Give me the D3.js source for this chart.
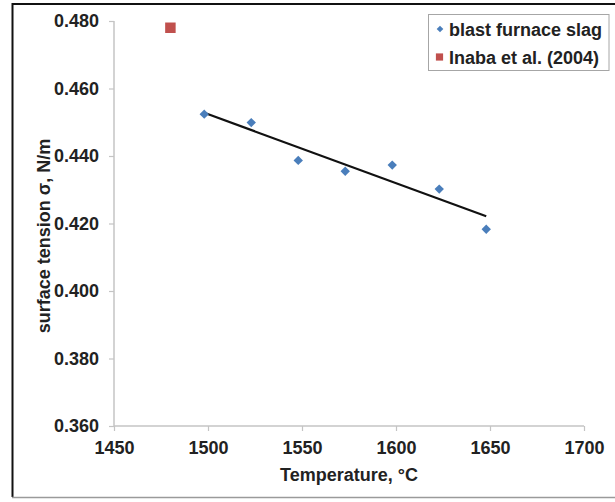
<!DOCTYPE html>
<html>
<head>
<meta charset="utf-8">
<script src="https://cdn.jsdelivr.net/npm/d3@7/dist/d3.min.js"></script>
<style>
  html, body { margin: 0; padding: 0; background: #fff; }
  svg text { font-family: "Liberation Sans", Arial, sans-serif; font-weight: bold; fill: #222; }
</style>
</head>
<body>
<svg id="chart" width="615" height="502"></svg>
<script>
// Surface tension of blast furnace slag vs temperature
const slagTemps  = [1498, 1523, 1548, 1573, 1598, 1623, 1648];
const slagTension = [0.4524, 0.4499, 0.4387, 0.4355, 0.4373, 0.4302, 0.4183];
const inabaTemps = [1480];
const inabaTension = [0.478];
const xTicks = [1450, 1500, 1550, 1600, 1650, 1700];
const yTicks = [0.36, 0.38, 0.40, 0.42, 0.44, 0.46, 0.48];
const seriesNames = ["blast furnace slag", "Inaba et al. (2004)"];
const seriesColors = ["#4a7ebb", "#c0504d"];

const svg = d3.select("#chart");
const fontSize = 18;

const x = d3.scaleLinear().domain([1450, 1700]).range([114, 584]);
const y = d3.scaleLinear().domain([0.36, 0.48]).range([426, 21]);

// outer frame
svg.append("path")
  .attr("d", "M12.5,497 L12.5,4 L615,4")
  .attr("fill", "none").attr("stroke", "#111").attr("stroke-width", 2);
svg.append("line")
  .attr("x1", 12).attr("x2", 615).attr("y1", 497.5).attr("y2", 497.5)
  .attr("stroke", "#9a9a9a").attr("stroke-width", 1.5);

// axes
const gx = svg.append("g")
  .attr("transform", "translate(0,426)")
  .call(d3.axisBottom(x).tickValues(xTicks).tickFormat(d3.format("d")).tickSize(5).tickPadding(10));
const gy = svg.append("g")
  .attr("transform", "translate(114,0)")
  .call(d3.axisLeft(y).tickValues(yTicks).tickFormat(d3.format(".3f")).tickSize(5).tickPadding(10));
[gx, gy].forEach(g => {
  g.select(".domain").attr("stroke", "#c4c4c4").attr("stroke-width", 1.5);
  g.selectAll(".tick line").attr("stroke", "#c4c4c4").attr("stroke-width", 1.2);
  g.selectAll(".tick text").style("font-size", fontSize + "px").attr("fill", "#222");
});
gy.select(".domain").attr("d", "M114,21V426").attr("transform", "translate(-114,0)");
gx.select(".domain").attr("d", "M114,0H584");

// axis titles
svg.append("text")
  .attr("x", 349).attr("y", 481)
  .attr("text-anchor", "middle")
  .style("font-size", fontSize + "px")
  .text("Temperature, °C");
svg.append("text")
  .attr("transform", "translate(50,236) rotate(-90)")
  .attr("text-anchor", "middle")
  .style("font-size", fontSize + "px")
  .text("surface tension σ, N/m");

// linear trend line of the slag series (least squares)
const mx = d3.mean(slagTemps), my = d3.mean(slagTension);
const slope = d3.sum(slagTemps, (t, i) => (t - mx) * (slagTension[i] - my)) /
              d3.sum(slagTemps, t => (t - mx) * (t - mx));
const icpt = my - slope * mx;
const tMin = d3.min(slagTemps), tMax = d3.max(slagTemps);
svg.append("line")
  .attr("x1", x(tMin)).attr("y1", y(icpt + slope * tMin))
  .attr("x2", x(tMax)).attr("y2", y(icpt + slope * tMax))
  .attr("stroke", "#111").attr("stroke-width", 2.2);

// markers
const diamond = d3.symbol(d3.symbolSquare, 44);
svg.append("g").selectAll("path")
  .data(slagTemps.map((t, i) => [t, slagTension[i]]))
  .join("path")
  .attr("d", diamond)
  .attr("transform", d => `translate(${x(d[0])},${y(d[1])}) rotate(45)`)
  .attr("fill", seriesColors[0]);

const square = d3.symbol(d3.symbolSquare, 110);
svg.append("g").selectAll("path")
  .data(inabaTemps.map((t, i) => [t, inabaTension[i]]))
  .join("path")
  .attr("d", square)
  .attr("transform", d => `translate(${x(d[0])},${y(d[1])})`)
  .attr("fill", seriesColors[1]);

// legend
const lg = svg.append("g");
lg.append("rect")
  .attr("x", 428.5).attr("y", 14.5).attr("width", 180.5).attr("height", 56)
  .attr("fill", "#fff").attr("stroke", "#a6a6a6").attr("stroke-width", 1);
const rows = [29, 57];
lg.append("path")
  .attr("d", d3.symbol(d3.symbolSquare, 22))
  .attr("transform", `translate(440,${rows[0]}) rotate(45)`)
  .attr("fill", seriesColors[0]);
lg.append("path")
  .attr("d", d3.symbol(d3.symbolSquare, 52))
  .attr("transform", `translate(439.5,${rows[1]})`)
  .attr("fill", seriesColors[1]);
seriesNames.forEach((name, i) => {
  lg.append("text")
    .attr("x", 449).attr("y", rows[i] + 6.5)
    .style("font-size", fontSize + "px")
    .text(name);
});
</script>
</body>
</html>
